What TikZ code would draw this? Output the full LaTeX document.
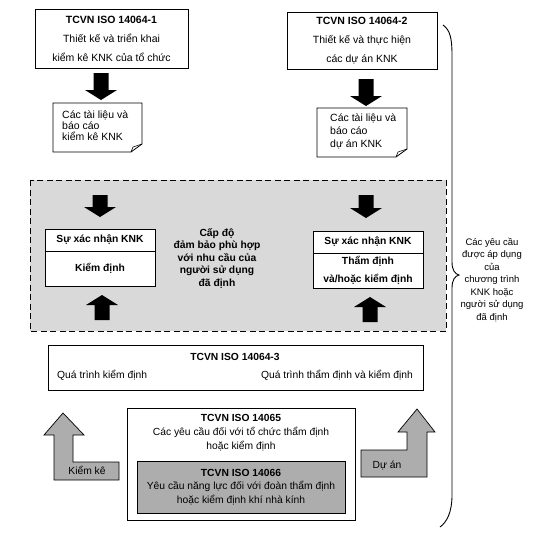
\documentclass[tikz,border=0pt]{standalone}
\usepackage{fontspec}
\setmainfont{Liberation Sans}
\usepackage{tikz}
\usetikzlibrary{positioning,calc}
\tikzstyle{norma} = [rectangle, draw=black, line width=0.9pt, fill=white, text centered, align=center, inner sep=0pt]
\tikzstyle{testo} = [inner sep=0pt, align=center, font=\fontsize{10.3}{12}\selectfont]
\tikzstyle{tratteggio} = [draw=black, line width=0.9pt, dash pattern=on 6pt off 3.5pt, fill=black!15]
\tikzstyle{grigio} = [draw=black, line width=0.7pt, fill=black!32]
\tikzstyle{documento} = [draw=black, line width=0.8pt, fill=white]
% frecce nere: x centro, y inizio, y punta
\newcommand{\frecciagiu}[3]{\fill (#1-7.5,#2) -- (#1+7.5,#2) -- (#1+7.5,#3-10) -- (#1+16,#3-10) -- (#1,#3) -- (#1-16,#3-10) -- (#1-7.5,#3-10) -- cycle;}
\newcommand{\frecciasu}[3]{\fill (#1-7.5,#3) -- (#1+7.5,#3) -- (#1+7.5,#2+10) -- (#1+16,#2+10) -- (#1,#2) -- (#1-16,#2+10) -- (#1-7.5,#2+10) -- cycle;}
% documento con angolo piegato
\newcommand{\foglio}[4]{\draw[documento] (#1,#2) -- (#3,#2) -- (#3,#4-8) -- (#3-11,#4) -- (#1,#4) -- cycle;
\draw[line width=0.6pt] (#3,#4-8) -- (#3-9,#4-5) -- (#3-11,#4);}

\begin{document}
\begin{tikzpicture}[x=1pt,y=-1pt]
\useasboundingbox (0,0) rectangle (554,536);
% parte superiore
\node (iso1) at (111.5,38.5) [norma, minimum width=153pt, minimum height=59pt, font=\fontsize{10.5}{19}\selectfont] {\textbf{TCVN ISO 14064-1}\\Thiết kế và triển khai\\kiểm kê KNK của tổ chức};
\node (iso2) at (362,40.5) [norma, minimum width=150pt, minimum height=57pt, font=\fontsize{10.5}{19}\selectfont] {\textbf{TCVN ISO 14064-2}\\Thiết kế và thực hiện\\các dự án KNK};
\frecciagiu{101}{73}{100}
\frecciagiu{366}{79}{106}
\foglio{53}{103}{142}{152}
\foglio{317}{108}{407}{157}
\node (doc1) at (62,126) [testo, anchor=west, align=left, font=\fontsize{10.5}{11}\selectfont] {Các tài liệu và\\báo cáo\\kiểm kê KNK};
\node (doc2) at (330,131) [testo, anchor=west, align=left, font=\fontsize{10.5}{13}\selectfont] {Các tài liệu và\\báo cáo\\dự án KNK};
% riquadro tratteggiato
\draw[tratteggio] (30,180) rectangle (446,331);
\frecciagiu{100}{195}{217}
\frecciagiu{366}{195}{218}
\frecciasu{102}{295}{320}
\frecciasu{370}{297}{322}
\node (xn1) at (100,240) [norma, minimum width=110pt, minimum height=22pt, font=\bfseries\fontsize{10.3}{12}\selectfont] {Sự xác nhận KNK};
\node (kd1) at (100,268.5) [norma, minimum width=110pt, minimum height=35pt, font=\bfseries\fontsize{10.3}{12}\selectfont] {Kiểm định};
\node (xn2) at (368,242) [norma, minimum width=110pt, minimum height=22pt, font=\bfseries\fontsize{10.3}{12}\selectfont] {Sự xác nhận KNK};
\node (kd2) at (368,270.5) [norma, minimum width=110pt, minimum height=35pt, font=\bfseries\fontsize{10.3}{18}\selectfont] {Thẩm định\\và/hoặc kiểm định};
\node (capdo) at (217,258) [testo, font=\bfseries\fontsize{10.3}{12.5}\selectfont] {Cấp độ\\đảm bảo phù hợp\\với nhu cầu của\\người sử dụng\\đã định};
% TCVN ISO 14064-3
\node (iso3) at (235.5,367.5) [norma, minimum width=375pt, minimum height=45pt] {};
\node (iso3t) at (235,357) [testo, font=\bfseries\fontsize{10.3}{12}\selectfont] {TCVN ISO 14064-3};
\node (qt1) at (57,375) [testo, anchor=west] {Quá trình kiểm định};
\node (qt2) at (413,375) [testo, anchor=east] {Quá trình thẩm định và kiểm định};
% frecce grigie
\draw[grigio] (63,413) -- (84,435) -- (73,435) -- (73,462) -- (119,462) -- (119,480) -- (54,480) -- (54,435) -- (44,435) -- cycle;
\node (kk) at (87,470) [testo] {Kiểm kê};
\draw[grigio] (417,409) -- (435,432) -- (427,432) -- (427,477) -- (361,477) -- (361,450) -- (407,450) -- (407,432) -- (398,432) -- cycle;
\node (da) at (387,465) [testo] {Dự án};
% TCVN ISO 14065 e 14066
\node (iso5) at (241,464) [norma, minimum width=228pt, minimum height=112pt] {};
\node (iso5t) at (241,432.5) [testo, font=\fontsize{10.3}{14}\selectfont] {\textbf{TCVN ISO 14065}\\Các yêu cầu đối với tổ chức thẩm định\\hoặc kiểm định};
\node (iso6) at (241,487) [norma, fill=black!32, minimum width=208pt, minimum height=52pt, font=\fontsize{10.3}{13.5}\selectfont] {\textbf{TCVN ISO 14066}\\Yêu cầu năng lực đối với đoàn thẩm định\\hoặc kiểm định khí nhà kính};
% parentesi graffa
\draw[line width=0.9pt] (443,25) .. controls (450,30) and (452,38) .. (452,55) -- (452,262) .. controls (452,270) and (455,274) .. (459,275) .. controls (455,276) and (452,280) .. (452,288) -- (452,495) .. controls (452,512) and (447,522) .. (440,527);
\node (req) at (492,280) [testo, font=\fontsize{9.5}{12.5}\selectfont] {Các yêu cầu\\được áp dụng\\của\\chương trình\\KNK hoặc\\người sử dụng\\đã định};
\end{tikzpicture}
\end{document}
